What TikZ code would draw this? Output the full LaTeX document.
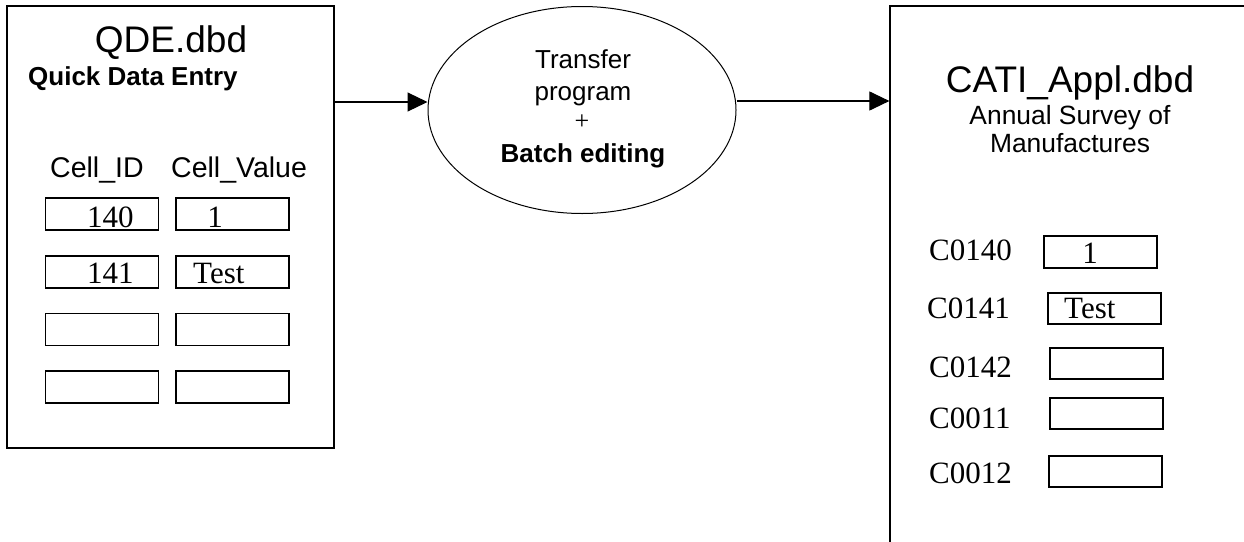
\documentclass[tikz,border=0pt]{standalone}
\usepackage{fontspec}
\setmainfont{Liberation Serif}
\newfontfamily\arial{Liberation Sans}
\usetikzlibrary{shapes.geometric,arrows.meta}
\begin{document}
\begin{tikzpicture}[x=1pt,y=-1pt,
  frame/.style={draw, line width=1.2pt, inner sep=0},
  cellbox/.style={draw, line width=1.1pt, minimum width=113pt, minimum height=32pt, inner sep=0},
  rbox/.style={draw, line width=1.1pt, minimum width=113pt, minimum height=31pt, inner sep=0},
  lbl/.style={inner sep=0, anchor=base west},
  clbl/.style={inner sep=0, anchor=base},
  tms/.style={font=\fontsize{31}{33}\selectfont},
  flow/.style={line width=1.1pt, -{Triangle[length=20pt,width=19pt]}},
]
\useasboundingbox (0,0) rectangle (1244,541);
\clip (0,0) rectangle (1244,541);
\fill[white] (0,0) rectangle (1244,541);

% main shapes
\node[frame, minimum width=327pt, minimum height=442pt] (qde) at (170.5,227) {};
\node[frame, minimum width=380pt, minimum height=560pt] (cati) at (1080,286) {};
\node[draw, ellipse, line width=1pt, minimum width=308pt, minimum height=207pt, inner sep=0] (proc) at (582,110) {};

% left box texts
\node[clbl, font=\arial\fontsize{37}{40}\selectfont] (qdet) at (171,52) {QDE.dbd};
\node[lbl, font=\arial\bfseries\fontsize{26}{28}\selectfont] (qdes) at (28,85) {Quick Data Entry};
\node[lbl, font=\arial\fontsize{28.5}{30}\selectfont] (hid) at (50,177) {Cell\_ID};
\node[lbl, font=\arial\fontsize{28.5}{30}\selectfont] (hval) at (171,177) {Cell\_Value};

% left cells
\node[cellbox] (b11) at (102,214) {};
\node[cellbox] (b12) at (232.5,214) {};
\node[cellbox] (b21) at (102,272) {};
\node[cellbox] (b22) at (232.5,272) {};
\node[cellbox] (b31) at (102,329.5) {};
\node[cellbox] (b32) at (232.5,329.5) {};
\node[cellbox] (b41) at (102,387) {};
\node[cellbox] (b42) at (232.5,387) {};
\node[lbl, tms] (t11) at (87,227) {140};
\node[clbl, tms] (t12) at (215,227) {1};
\node[lbl, tms] (t21) at (87,283) {141};
\node[lbl, tms] (t22) at (193,283) {Test};

% ellipse texts
\node[clbl, font=\arial\fontsize{26}{28}\selectfont] (e1) at (583,68) {Transfer};
\node[clbl, font=\arial\fontsize{26}{28}\selectfont] (e2) at (583,100) {program};
\node[clbl, font=\fontsize{26}{28}\selectfont] (e3) at (582,129) {+};
\node[clbl, font=\arial\bfseries\fontsize{26}{28}\selectfont] (e4) at (583,162) {Batch editing};

% right box texts
\node[clbl, font=\arial\fontsize{37}{40}\selectfont] (catit) at (1070,92) {CATI\_Appl.dbd};
\node[clbl, font=\arial\fontsize{26.4}{28}\selectfont] (cs1) at (1070,124) {Annual Survey of};
\node[clbl, font=\arial\fontsize{26.4}{28}\selectfont] (cs2) at (1070,152) {Manufactures};

% right rows
\node[lbl, tms] (l1) at (929,260) {C0140};
\node[lbl, tms] (l2) at (927,318) {C0141};
\node[lbl, tms] (l3) at (929,377) {C0142};
\node[lbl, tms] (l4) at (929,428) {C0011};
\node[lbl, tms] (l5) at (929,483) {C0012};
\node[rbox, minimum height=32pt] (r1) at (1100.5,252) {};
\node[rbox] (r2) at (1104.5,308.5) {};
\node[rbox] (r3) at (1106.5,363.5) {};
\node[rbox] (r4) at (1106.5,413.5) {};
\node[rbox] (r5) at (1105.5,471.5) {};
\node[clbl, tms] (v1) at (1090,263) {1};
\node[lbl, tms] (v2) at (1064,318) {Test};

% connectors
\coordinate (ya) at (0,102);
\coordinate (yb) at (0,101);
\draw[flow] (qde.east |- ya) -- (proc.west |- ya);
\draw[flow] (proc.east |- yb) -- (cati.west |- yb);
\end{tikzpicture}
\end{document}
